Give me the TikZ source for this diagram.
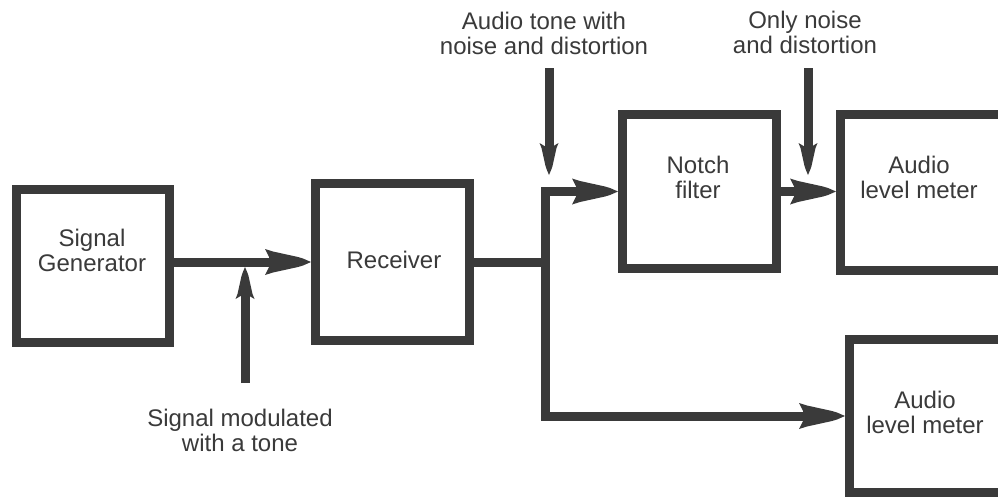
\documentclass[tikz,border=0pt]{standalone}
\usepackage{fontspec}
\setmainfont{Liberation Sans}
\usetikzlibrary{arrows.meta}
\definecolor{ink}{RGB}{58,58,58}
\pgfdeclarearrow{
  name=Rocket,
  setup code={
    \pgfarrowssettipend{0pt}
    \pgfarrowssetlineend{-39pt}
    \pgfarrowssetbackend{-46pt}
    \pgfarrowshullpoint{0pt}{0pt}
    \pgfarrowsupperhullpoint{-46pt}{13pt}
  },
  drawing code={
    \pgfpathmoveto{\pgfqpoint{0pt}{0pt}}
    \pgfpathlineto{\pgfqpoint{-8pt}{3.5pt}}
    \pgfpathlineto{\pgfqpoint{-13pt}{5pt}}
    \pgfpathlineto{\pgfqpoint{-38pt}{10.5pt}}
    \pgfpathlineto{\pgfqpoint{-46pt}{13pt}}
    \pgfpathlineto{\pgfqpoint{-42pt}{5pt}}
    \pgfpathlineto{\pgfqpoint{-42pt}{-5pt}}
    \pgfpathlineto{\pgfqpoint{-46pt}{-13pt}}
    \pgfpathlineto{\pgfqpoint{-38pt}{-10.5pt}}
    \pgfpathlineto{\pgfqpoint{-13pt}{-5pt}}
    \pgfpathlineto{\pgfqpoint{-8pt}{-3.5pt}}
    \pgfpathclose
    \pgfusepathqfill
  }
}
\pgfdeclarearrow{
  name=SmallRocket,
  setup code={
    \pgfarrowssettipend{0pt}
    \pgfarrowssetlineend{-27pt}
    \pgfarrowssetbackend{-32pt}
    \pgfarrowshullpoint{0pt}{0pt}
    \pgfarrowsupperhullpoint{-32pt}{9.5pt}
  },
  drawing code={
    \pgfpathmoveto{\pgfqpoint{0pt}{0pt}}
    \pgfpathlineto{\pgfqpoint{-6pt}{2.5pt}}
    \pgfpathlineto{\pgfqpoint{-9pt}{3.5pt}}
    \pgfpathlineto{\pgfqpoint{-27pt}{7.5pt}}
    \pgfpathlineto{\pgfqpoint{-32pt}{9.5pt}}
    \pgfpathlineto{\pgfqpoint{-29pt}{4.5pt}}
    \pgfpathlineto{\pgfqpoint{-29pt}{-4.5pt}}
    \pgfpathlineto{\pgfqpoint{-32pt}{-9.5pt}}
    \pgfpathlineto{\pgfqpoint{-27pt}{-7.5pt}}
    \pgfpathlineto{\pgfqpoint{-9pt}{-3.5pt}}
    \pgfpathlineto{\pgfqpoint{-6pt}{-2.5pt}}
    \pgfpathclose
    \pgfusepathqfill
  }
}
\begin{document}
\begin{tikzpicture}[x=1pt,y=-1pt,
  box/.style={draw=ink,line width=9pt,inner sep=0pt,fill=white},
  lbl/.style={text=ink,font=\fontsize{24}{25}\selectfont,align=center,inner sep=0pt},
  wire/.style={draw=ink,line width=9pt},
  conn/.style={wire,-Rocket},
  vconn/.style={wire,-SmallRocket}]
\useasboundingbox[fill=white] (0,0) rectangle (998,496);

% boxes
\node[box,minimum width=153pt,minimum height=153pt,
  label={[lbl,anchor=north,xshift=-1pt,yshift=-44pt]north:{Signal\\Generator}}]
  (sg) at (93,266) {};
\node[box,minimum width=154pt,minimum height=157pt,
  label={[lbl,anchor=north,xshift=1.5pt,yshift=-72pt]north:{Receiver}}]
  (rec) at (392.5,262) {};
\node[box,minimum width=154pt,minimum height=154pt,
  label={[lbl,anchor=north,xshift=-1.5pt,yshift=-46pt]north:{Notch\\filter}}]
  (notch) at (699.5,191.5) {};
\node[box,minimum width=204.5pt,minimum height=156pt,
  label={[lbl,anchor=north,xshift=-23.75pt,yshift=-46pt]north:{Audio\\level meter}}]
  (m1) at (942.75,192.5) {};
\node[box,minimum width=195.5pt,minimum height=153pt,
  label={[lbl,anchor=north,xshift=-22.25pt,yshift=-56pt]north:{Audio\\level meter}}]
  (m2) at (947.25,416) {};

% outside labels
\node[lbl,anchor=north] (tone) at (544,12) {Audio tone with\\noise and distortion};
\node[lbl,anchor=north] (noise) at (805,11) {Only noise\\and distortion};
\node[lbl,anchor=north] (sigmod) at (240,409) {Signal modulated\\with a tone};

% junction and arrow tips
\coordinate (j) at (545,262);
\coordinate (m) at (245,267);
\coordinate (t1) at (549,175);
\coordinate (t2) at (808,175);

% connectors
\draw[conn] (rec.west -| sg.east) -- (rec.west);
\draw[wire] (rec.east) -- (j);
\draw[conn] (j) |- (notch.west);
\draw[conn] (j) |- (m2.west);
\draw[conn] (notch.east) -- (notch.east -| m1.west);

\draw[vconn,shorten <=26pt] (m |- sigmod.north) -- (m);
\draw[vconn,shorten <=56pt] (t1 |- tone.north) -- (t1);
\draw[vconn,shorten <=57pt] (t2 |- noise.north) -- (t2);
\end{tikzpicture}
\end{document}
